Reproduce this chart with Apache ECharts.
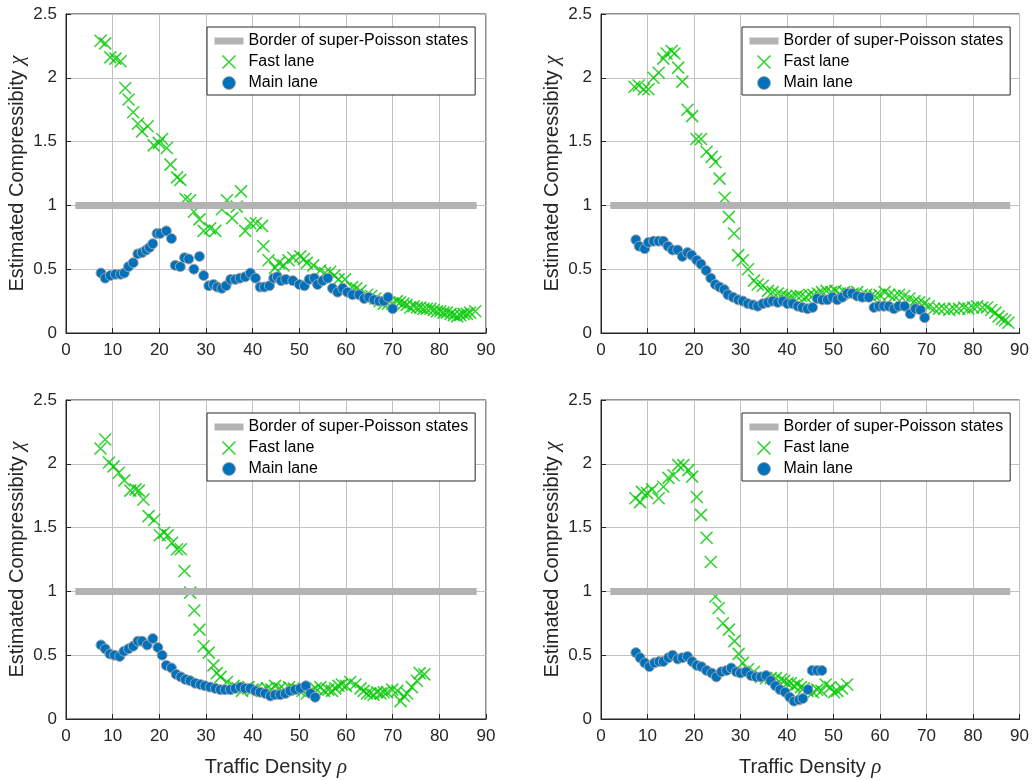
<!DOCTYPE html>
<html>
<head>
<meta charset="utf-8">
<script src="https://cdn.jsdelivr.net/npm/echarts@6/dist/echarts.min.js"></script>
<style>
html, body { margin: 0; padding: 0; background: #fff; }
#chart { width: 1032px; height: 780px; }
</style>
</head>
<body>
<div id="chart"></div>
<script>
// border of super-Poisson states (chi = 1)
const borderLine = [[2, 1], [88, 1]]

// top left
const fast1 = [[7.4,2.29],[8.4,2.27],[9.5,2.16],[10.6,2.15],[11.7,2.13],[12.7,1.92],[13.4,1.83],[14.4,1.73],[15.4,1.64],[16.3,1.58],[17.5,1.62],[18.8,1.47],[19.9,1.49],[20.6,1.52],[21.6,1.45],[22.4,1.32],[23.8,1.22],[24.5,1.2],[25.6,1.05],[26.6,1.04],[27.4,0.95],[28.6,0.89],[29.5,0.8],[30.9,0.82],[32,0.8],[33.4,0.97],[34.5,1.04],[35.6,0.9],[36.6,0.99],[37.5,1.11],[38.4,0.8],[39.5,0.86],[40.7,0.86],[42,0.84],[42.3,0.68],[43.4,0.57],[44.8,0.51],[45.6,0.55],[46.6,0.53],[47.7,0.57],[48.7,0.59],[50.2,0.6],[51,0.58],[51.6,0.55],[53,0.53],[54.5,0.49],[55.5,0.47],[56.6,0.48],[57.5,0.45],[58.4,0.42],[59.8,0.42],[61.3,0.36],[62.2,0.35],[63.1,0.33],[64.5,0.3],[65.4,0.29],[66.3,0.27],[67.2,0.25],[68.1,0.23],[69,0.23],[69.9,0.23],[70.9,0.25],[71.6,0.24],[72.3,0.23],[73,0.22],[73.8,0.2],[74.5,0.21],[75.2,0.2],[75.9,0.2],[76.6,0.19],[77.3,0.19],[78.1,0.19],[78.8,0.18],[79.5,0.17],[80.2,0.17],[80.9,0.16],[81.6,0.16],[82.4,0.15],[83.1,0.14],[83.8,0.13],[84.5,0.14],[85.2,0.15],[85.9,0.15],[86.6,0.16],[87.7,0.17]]
const main1 = [[7.5,0.47],[8.4,0.43],[9.5,0.45],[10.6,0.46],[11.7,0.46],[12.5,0.47],[13.4,0.52],[14.4,0.55],[15.4,0.62],[16.3,0.63],[17.2,0.65],[17.9,0.67],[18.6,0.7],[19.5,0.78],[20.2,0.78],[21.5,0.8],[22.6,0.74],[23.4,0.53],[24.5,0.52],[25.4,0.59],[26.3,0.58],[27.4,0.5],[28.6,0.6],[29.5,0.45],[30.6,0.37],[31.6,0.38],[32.4,0.36],[33.4,0.35],[34.3,0.37],[35.3,0.42],[36.3,0.42],[37.3,0.43],[38.4,0.44],[39.5,0.47],[40.6,0.43],[41.6,0.36],[42.5,0.36],[43.6,0.37],[44.5,0.43],[45.3,0.44],[46.1,0.41],[47.1,0.42],[48.6,0.41],[50,0.38],[51.1,0.37],[52.1,0.42],[53.2,0.43],[53.9,0.38],[55,0.41],[56.1,0.43],[57.1,0.35],[58.2,0.32],[59.3,0.35],[60.3,0.32],[61.4,0.3],[62.8,0.3],[63.9,0.27],[64.9,0.28],[66,0.26],[67.1,0.25],[68.1,0.25],[69,0.28],[70,0.19]]

// top right
const fast2 = [[7.2,1.93],[8.1,1.94],[9.2,1.91],[10.2,1.91],[11.3,2],[12.4,2.04],[13.4,2.15],[14.1,2.19],[15.2,2.21],[15.8,2.19],[16.6,2.08],[17.5,1.97],[18.6,1.75],[19.6,1.7],[20.5,1.52],[21.5,1.52],[22.7,1.42],[23.8,1.38],[24.6,1.34],[25.5,1.21],[26.6,1.06],[27.5,0.91],[28.6,0.78],[29.5,0.61],[30.5,0.57],[31.6,0.5],[32.9,0.41],[33.7,0.38],[34.8,0.37],[35.9,0.33],[36.9,0.32],[38,0.31],[38.9,0.3],[39.8,0.29],[40.6,0.28],[41.2,0.28],[42.1,0.29],[43,0.29],[44,0.28],[44.8,0.3],[45.7,0.3],[46.6,0.31],[47.5,0.32],[48.5,0.33],[49.5,0.32],[50.4,0.33],[51.3,0.31],[52.3,0.32],[53.2,0.31],[54.2,0.31],[55.1,0.32],[56.1,0.3],[57,0.3],[58,0.29],[58.9,0.29],[59.9,0.3],[61,0.32],[62,0.3],[63.1,0.29],[64.1,0.3],[65.2,0.29],[66.3,0.27],[67.4,0.25],[68.4,0.24],[69.5,0.23],[70.5,0.21],[71.6,0.19],[72.7,0.19],[73.8,0.19],[74.9,0.18],[75.9,0.19],[77,0.19],[78.1,0.2],[79,0.19],[80,0.2],[80.9,0.21],[82,0.2],[83,0.2],[83.9,0.18],[84.8,0.16],[85.5,0.13],[86.2,0.11],[86.9,0.1],[87.6,0.08]]
const main2 = [[7.5,0.73],[8.2,0.68],[9.4,0.66],[10.2,0.71],[11.3,0.72],[12.4,0.72],[13.4,0.72],[14.4,0.68],[15.4,0.65],[16.5,0.65],[17.5,0.6],[18.6,0.63],[19.5,0.61],[20.6,0.57],[21.5,0.54],[22.6,0.49],[23.6,0.43],[24.6,0.38],[25.5,0.36],[26.5,0.34],[27.3,0.3],[28.4,0.28],[29.5,0.26],[30.5,0.25],[31.6,0.23],[32.7,0.22],[33.7,0.21],[34.8,0.23],[35.9,0.24],[36.9,0.25],[38,0.24],[39.1,0.25],[40.1,0.23],[41.2,0.23],[42.3,0.21],[43.3,0.2],[44.4,0.19],[45.5,0.2],[46.5,0.27],[47.6,0.26],[48.7,0.26],[49.8,0.28],[50.8,0.26],[51.9,0.28],[53,0.31],[54,0.31],[55.1,0.29],[56.2,0.28],[57.6,0.28],[58.7,0.2],[59.8,0.21],[60.8,0.21],[61.9,0.21],[63,0.19],[64,0.21],[65.3,0.21],[66.5,0.15],[67.6,0.19],[68.7,0.18],[69.6,0.12]]

// bottom left
const fast3 = [[7.4,2.12],[8.4,2.19],[9.2,2.01],[10.2,1.98],[11.3,1.93],[12.5,1.87],[13.8,1.79],[14.9,1.8],[15.6,1.79],[16.6,1.72],[17.7,1.59],[18.9,1.56],[20.1,1.44],[21,1.46],[21.8,1.44],[22.7,1.38],[23.8,1.33],[24.6,1.33],[25.4,1.16],[26.6,0.99],[27.5,0.85],[28.6,0.7],[29.5,0.57],[30.6,0.52],[31.6,0.42],[32.3,0.36],[33.1,0.33],[34.5,0.29],[35.9,0.26],[36.8,0.24],[37.7,0.22],[39.1,0.25],[40,0.23],[40.9,0.24],[42,0.22],[43.1,0.24],[44,0.23],[44.8,0.26],[45.8,0.24],[46.8,0.23],[47.8,0.25],[48.8,0.24],[49.8,0.23],[50.7,0.22],[51.6,0.2],[52.6,0.22],[53.5,0.24],[54.5,0.25],[55.3,0.22],[56.2,0.23],[57,0.22],[57.7,0.24],[58.4,0.26],[59.1,0.27],[60,0.26],[60.9,0.29],[62,0.27],[63.1,0.24],[63.8,0.22],[64.5,0.2],[65.2,0.2],[65.9,0.19],[66.7,0.21],[67.4,0.2],[68.1,0.21],[68.8,0.21],[69.9,0.23],[71,0.22],[71.7,0.14],[72.4,0.18],[73.1,0.2],[74.1,0.25],[75.2,0.3],[75.8,0.36],[76.8,0.35]]
const main3 = [[7.5,0.58],[8.4,0.55],[9.4,0.51],[10.4,0.5],[11.5,0.49],[12.4,0.53],[13.4,0.55],[14.4,0.57],[15.4,0.61],[16.3,0.61],[17.4,0.58],[18.6,0.63],[19.7,0.56],[20.6,0.5],[21.5,0.42],[22.6,0.4],[23.6,0.35],[24.6,0.33],[25.6,0.31],[26.6,0.3],[27.7,0.28],[28.8,0.27],[29.8,0.26],[30.9,0.25],[32,0.24],[33.1,0.23],[34.1,0.23],[35.2,0.23],[36.3,0.24],[37.4,0.25],[38.4,0.24],[39.5,0.24],[40.6,0.22],[41.6,0.21],[42.7,0.2],[43.8,0.18],[44.8,0.19],[45.9,0.19],[47,0.2],[48,0.22],[49.1,0.23],[50.2,0.24],[51.4,0.26],[52.4,0.2],[53.4,0.17]]

// bottom right
const fast4 = [[7.4,1.73],[8.4,1.7],[8.8,1.78],[9.9,1.77],[11,1.8],[12.4,1.73],[13.4,1.82],[14.5,1.89],[15.6,1.91],[16.6,1.99],[17.7,1.99],[18.8,1.95],[19.6,1.9],[20.6,1.74],[21.5,1.6],[22.7,1.42],[23.6,1.23],[24.6,0.96],[25.3,0.87],[26.2,0.75],[27.5,0.7],[28.7,0.61],[29.6,0.51],[30.5,0.44],[31.6,0.39],[32.9,0.37],[34.4,0.33],[35.5,0.32],[36.5,0.32],[37.6,0.32],[38.7,0.31],[39.4,0.3],[40.1,0.28],[40.8,0.28],[41.5,0.26],[42.2,0.27],[43,0.25],[43.6,0.24],[44.4,0.22],[45.6,0.21],[46.5,0.23],[47.4,0.22],[48.3,0.27],[49.3,0.25],[50.1,0.21],[50.8,0.22],[51.8,0.24],[52.9,0.27]]
const main4 = [[7.5,0.52],[8.4,0.48],[9.4,0.44],[10.4,0.41],[11.5,0.44],[12.5,0.45],[13.4,0.45],[14.5,0.48],[15.4,0.5],[16.5,0.47],[17.5,0.48],[18.6,0.49],[19.6,0.45],[20.6,0.42],[21.6,0.41],[22.7,0.38],[23.8,0.36],[24.8,0.33],[25.9,0.37],[27,0.38],[28,0.4],[29.1,0.37],[30,0.36],[31.2,0.37],[32.3,0.34],[33.4,0.33],[34.4,0.33],[35.5,0.34],[36.5,0.3],[37.5,0.26],[38.5,0.23],[39.6,0.21],[40.6,0.17],[41.5,0.14],[42.6,0.15],[43.4,0.16],[44.5,0.23],[45.4,0.38],[46.5,0.38],[47.5,0.38]]

const names = ["Border of super-Poisson states", "Fast lane", "Main lane"]
const font = "Liberation Sans"
const ink = "#262626"
const green = "#00c800"
const blue = "#0072bd"
const gray = "#b3b3b3"
const clear = "rgba(0,0,0,0)"
const cross = "path://M0,0L10,10M10,0L0,10"

const panels = [
    { fast: fast1, main: main1, left: 66, top: 14, xName: false },
    { fast: fast2, main: main2, left: 601, top: 14, xName: false },
    { fast: fast3, main: main3, left: 66, top: 400, xName: true },
    { fast: fast4, main: main4, left: 601, top: 400, xName: true },
]

const nameRich = {
    t: { fontSize: 20, fontFamily: font, color: ink },
    g: { fontSize: 21, fontFamily: "Liberation Serif", fontStyle: "italic", color: ink },
}

const grid = []
const xAxis = []
const yAxis = []
const legend = []
const series = []

panels.forEach((p, i) => {
    grid.push({
        left: p.left,
        top: p.top,
        width: 420,
        height: 319,
        show: true,
        borderColor: ink,
        borderWidth: 1,
    })
    xAxis.push({
        gridIndex: i,
        type: "value",
        min: 0,
        max: 90,
        interval: 10,
        axisLine: { onZero: false, lineStyle: { color: ink } },
        axisTick: { inside: true, length: 5, lineStyle: { color: ink } },
        axisLabel: { color: ink, fontSize: 17, fontFamily: font, margin: 9 },
        splitLine: { show: true, lineStyle: { color: "#c2c2c2" } },
        name: p.xName ? "{t|Traffic Density }{g|ρ}" : "",
        nameLocation: "middle",
        nameGap: 38,
        nameTextStyle: { rich: nameRich },
    })
    yAxis.push({
        gridIndex: i,
        type: "value",
        min: 0,
        max: 2.5,
        interval: 0.5,
        axisLine: { lineStyle: { color: ink } },
        axisTick: { inside: true, length: 5, lineStyle: { color: ink } },
        axisLabel: { color: ink, fontSize: 17, fontFamily: font, margin: 9 },
        splitLine: { show: true, lineStyle: { color: "#c2c2c2" } },
        name: "{t|Estimated Compressibity }{g|χ}",
        nameLocation: "middle",
        nameGap: 38,
        nameTextStyle: { rich: nameRich },
    })
    legend.push({
        orient: "vertical",
        left: p.left + 141,
        top: p.top + 13,
        padding: [6, 7, 4, 4],
        itemGap: 5,
        itemWidth: 29,
        itemHeight: 13,
        backgroundColor: "#fff",
        borderColor: ink,
        borderWidth: 1,
        borderRadius: 0,
        textStyle: { fontSize: 16, fontFamily: font, color: "#000" },
        data: [
            {
                name: names[0],
                lineStyle: { width: 7, color: gray, cap: "butt" },
                itemStyle: { color: clear, borderColor: clear, borderWidth: 0 },
            },
            { name: names[1], icon: cross, itemStyle: { color: green, borderColor: green, borderWidth: 1.6 } },
            { name: names[2], icon: "circle", itemStyle: { color: blue, borderColor: "#a6a6a6", borderWidth: 1 } },
        ],
    })
    series.push(
        {
            name: names[0],
            type: "line",
            xAxisIndex: i,
            yAxisIndex: i,
            data: borderLine,
            symbol: "none",
            lineStyle: { width: 7, color: gray, cap: "butt" },
            color: gray,
        },
        {
            name: names[1],
            type: "scatter",
            xAxisIndex: i,
            yAxisIndex: i,
            data: p.fast,
            symbol: cross,
            symbolSize: 12,
            itemStyle: { color: green, borderColor: green, borderWidth: 1.6 },
        },
        {
            name: names[2],
            type: "scatter",
            xAxisIndex: i,
            yAxisIndex: i,
            data: p.main,
            symbol: "circle",
            symbolSize: 10,
            itemStyle: { color: blue, borderColor: "#a6a6a6", borderWidth: 1, opacity: 1 },
        }
    )
})

const chart = echarts.init(document.getElementById("chart"))
chart.setOption({
    animation: false,
    backgroundColor: "#fff",
    grid,
    xAxis,
    yAxis,
    legend,
    series,
})
</script>
</body>
</html>
